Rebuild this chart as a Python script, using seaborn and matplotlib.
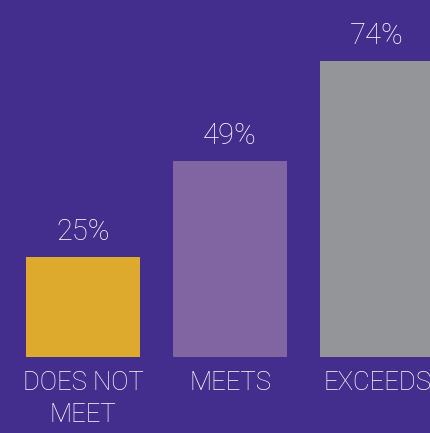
import seaborn as sns
import matplotlib.pyplot as plt
import pandas as pd

categories = ['DOES NOT\nMEET', 'MEETS', 'EXCEEDS']
values = [25, 49, 74]
value_labels = ['25%', '49%', '74%']
colors = ['#DEAA2D', '#8065A2', '#949599']

bg = '#432E8D'
fonts = ['Roboto', 'DejaVu Sans']

sns.set_theme(style='white')
plt.rcParams['font.family'] = fonts

df = pd.DataFrame({'category': categories, 'value': values})

fig = plt.figure(figsize=(4.31, 4.33), dpi=100, facecolor=bg)
ax = fig.add_axes([0, 76 / 433, 1, 357 / 433])
ax.set_facecolor(bg)

sns.barplot(data=df, x='category', y='value', hue='category', palette=colors,
            width=0.775, legend=False, ax=ax, saturation=1, linewidth=0)

for cont, lab in zip(ax.containers, value_labels):
    ax.bar_label(cont, labels=[lab], padding=8, color='white', fontsize=21,
                 family=fonts, fontweight='light')

ax.set_xlim(-0.565, 2.367)
ax.set_ylim(0, 89.25)
ax.set_xlabel('')
ax.set_ylabel('')
ax.set_yticks([])
ax.tick_params(axis='x', length=0, pad=10, colors='white', labelsize=18.5)
for t in ax.get_xticklabels():
    t.set_fontweight('light')
    t.set_linespacing(1.45)
sns.despine(ax=ax, left=True, bottom=True)

fig.savefig('out.png', dpi=100, facecolor=bg)
